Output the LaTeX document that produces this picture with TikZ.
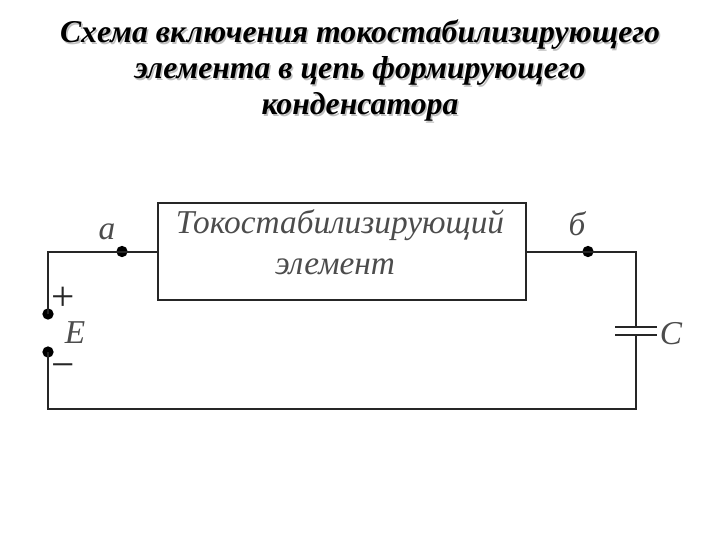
\documentclass[tikz,border=0pt]{standalone}
\usepackage{fontspec}
\setmainfont{Liberation Serif}
\usepackage{tikz}
\tikzset{
  wire/.style={line width=1.5pt, black!85},
  pin/.style={circle, fill=black, inner sep=0pt, minimum size=8.5pt},
  lbl/.style={font=\itshape\fontsize{25}{25}\selectfont, text=black!70},
  sign/.style={font=\fontsize{31}{31}\selectfont, text=black!85},
  titletext/.style={align=center, font=\bfseries\itshape\fontsize{23.8}{27}\selectfont}
}
\begin{document}
\begin{tikzpicture}[x=0.75pt,y=-0.75pt]
\useasboundingbox (0,0) rectangle (720,540);
% title with its shadow
\node[titletext, text=black!25] at (361.5,72.5) {Схема включения токостабилизирующего\\элемента в цепь формирующего\\конденсатора};
\node[titletext] (title) at (360,71) {Схема включения токостабилизирующего\\элемента в цепь формирующего\\конденсатора};
% block
\node[draw, wire, minimum width=276pt, minimum height=72.5pt] (elem) at (341.5,251.5) {};
\node[align=center, text=black!70, font=\itshape\fontsize{25}{31}\selectfont] (elemtext) at (340,242) {Токостабилизирующий\\элемент\hspace*{7.5pt}};
% pins
\node[pin] (pina) at (122,251.5) {};
\node[pin] (pinb) at (588,251.5) {};
\node[pin] (pinp) at (48,314) {};
\node[pin] (pinm) at (48,352) {};
\coordinate (capt) at (636,327);
\coordinate (capb) at (636,335);
% wires
\draw[wire] (pinp.center) |- (pina.center) -- (elem.west) ;
\draw[wire] (elem.east) -- (pinb.center) -| (capt) ;
\draw[wire] (capb) |- (pinm.center |- 0,409) -- (pinm.center) ;
% capacitor plates
\draw[wire] ([xshift=-15.75pt]capt) -- ([xshift=15.75pt]capt) ;
\draw[wire] ([xshift=-15.75pt]capb) -- ([xshift=15.75pt]capb) ;
% labels
\node[lbl] (la) at (107,232) {a};
\node[lbl] (lb) at (577,224) {б};
\node[lbl] (le) at (75,333) {E};
\node[lbl] (lc) at (671,334) {C};
\node[sign] (lp) at (63,299) {+};
\node[sign] (lm) at (63,371) {−};
\end{tikzpicture}
\end{document}
